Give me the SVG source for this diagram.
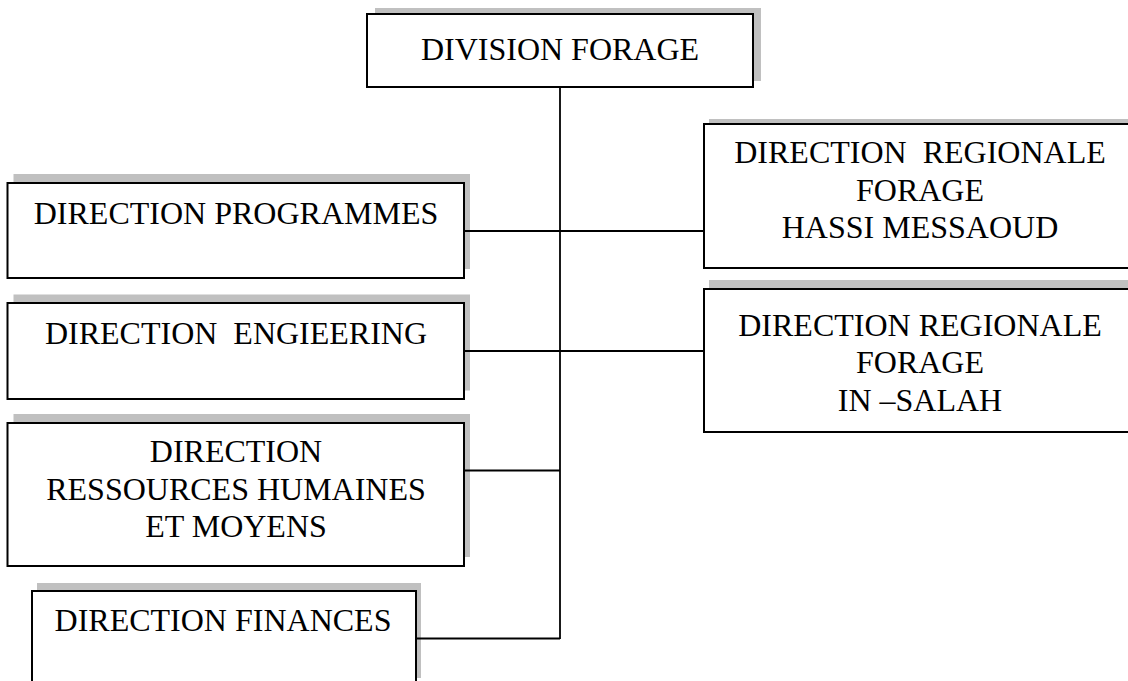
<svg xmlns="http://www.w3.org/2000/svg" width="1128" height="681" viewBox="0 0 1128 681">
  <style>
    .shadow { fill: #c0c0c0; stroke: none; }
    .box { fill: #ffffff; stroke: #000000; stroke-width: 2; }
    .label { font-family: "Liberation Serif", "Times New Roman", serif; font-size: 32px; fill: #000000; text-anchor: middle; }
    .wire { fill: none; stroke: #000000; stroke-width: 1.8; }
  </style>
  <rect width="1128" height="681" fill="#ffffff"/>

  <g id="division-forage">
    <rect class="shadow" x="375" y="8" width="386" height="73"/>
    <rect class="box" x="367" y="14" width="386" height="73"/>
    <text class="label" x="560" y="60">DIVISION FORAGE</text>
  </g>

  <g id="direction-programmes">
    <rect class="shadow" x="13.5" y="174" width="456.5" height="95"/>
    <rect class="box" x="7.5" y="183" width="456.5" height="95"/>
    <text class="label" x="236" y="224">DIRECTION PROGRAMMES</text>
  </g>

  <g id="direction-engineering">
    <rect class="shadow" x="13.5" y="294.5" width="456.5" height="96"/>
    <rect class="box" x="7.5" y="303" width="456.5" height="96"/>
    <text class="label" x="236" y="344" xml:space="preserve">DIRECTION  ENGIEERING</text>
  </g>

  <g id="direction-rh">
    <rect class="shadow" x="13.5" y="414" width="456.5" height="143"/>
    <rect class="box" x="7.5" y="423" width="456.5" height="143"/>
    <text class="label" x="236" y="462">DIRECTION</text>
    <text class="label" x="236" y="499.5">RESSOURCES HUMAINES</text>
    <text class="label" x="236" y="537">ET MOYENS</text>
  </g>

  <g id="direction-finances">
    <rect class="shadow" x="37" y="583" width="384" height="95"/>
    <rect class="box" x="32" y="591" width="384" height="95"/>
    <text class="label" x="223" y="631">DIRECTION FINANCES</text>
  </g>

  <g id="dr-hassi-messaoud">
    <rect class="shadow" x="709" y="119" width="440" height="144"/>
    <rect class="box" x="704" y="124" width="440" height="144"/>
    <text class="label" x="920" y="163" xml:space="preserve">DIRECTION  REGIONALE</text>
    <text class="label" x="920" y="200.5">FORAGE</text>
    <text class="label" x="920" y="238">HASSI MESSAOUD</text>
  </g>

  <g id="dr-in-salah">
    <rect class="shadow" x="709" y="280" width="440" height="143"/>
    <rect class="box" x="704" y="289" width="440" height="143"/>
    <text class="label" x="920" y="336">DIRECTION REGIONALE</text>
    <text class="label" x="920" y="373">FORAGE</text>
    <text class="label" x="920" y="410.5">IN –SALAH</text>
  </g>

  <!-- connectors, drawn over the box shadows -->
  <g id="connectors">
    <line class="wire" x1="560" y1="87" x2="560" y2="639"/>
    <line class="wire" x1="464" y1="231" x2="704" y2="231"/>
    <line class="wire" x1="464" y1="351" x2="704" y2="351"/>
    <line class="wire" x1="464" y1="470.5" x2="560" y2="470.5"/>
    <line class="wire" x1="416" y1="638.5" x2="560" y2="638.5"/>
  </g>
</svg>
